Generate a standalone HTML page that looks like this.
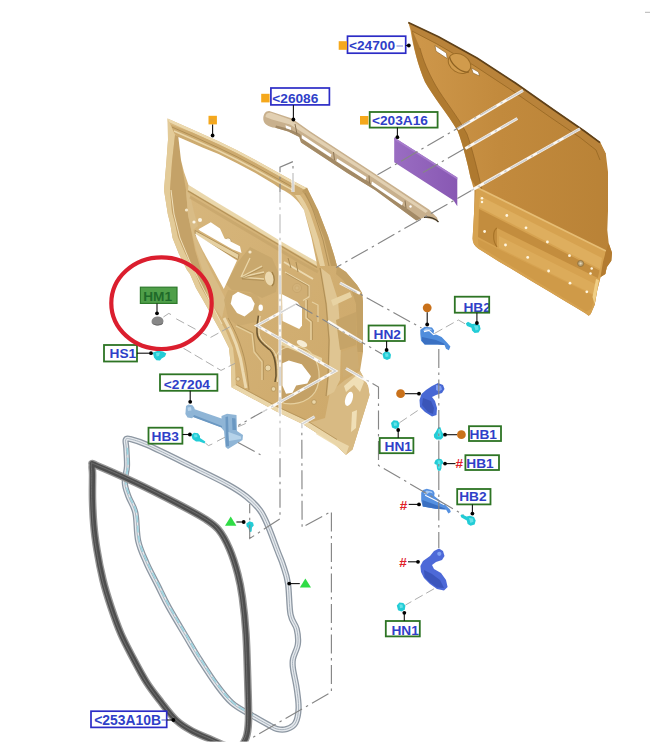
<!DOCTYPE html>
<html lang="en">
<head>
<meta charset="utf-8">
<title>Rear door exploded view</title>
<style>
html,body{margin:0;padding:0;background:#fff;}
body{width:650px;height:750px;overflow:hidden;}
svg{display:block;}
text{font-family:"Liberation Sans",Arial,sans-serif;font-weight:bold;font-size:13.7px;}
.lb{fill:#2f3fc8;}
.bx-b{fill:#fff;stroke:#2b2bd0;stroke-width:1.3;}
.bx-g{fill:#fff;stroke:#2f7a2a;stroke-width:1.4;}
.ld{stroke:#111;stroke-width:1.1;fill:none;}
.dot{fill:#000;}
.osq{fill:#f5a81c;}
.dd{stroke:#868686;stroke-width:1.15;fill:none;stroke-dasharray:19 4.5 2.5 4.5;}
.dw{stroke:#fff;stroke-width:3;fill:none;opacity:.88;}
.ds{stroke:#a4a4a4;stroke-width:0.9;fill:none;stroke-dasharray:9 4;}
.cy{fill:#22ccd6;}
.red{fill:#e0202a;}
</style>
</head>
<body>
<svg width="650" height="750" viewBox="0 0 650 750">
<defs>
<linearGradient id="gOut" x1="0" y1="0" x2="1" y2="0">
<stop offset="0" stop-color="#cf984b"/><stop offset=".45" stop-color="#c28a3d"/><stop offset="1" stop-color="#b98236"/>
</linearGradient>
<linearGradient id="gIn" x1="0" y1="0" x2="1" y2="1">
<stop offset="0" stop-color="#d9b980"/><stop offset="1" stop-color="#cca768"/>
</linearGradient>
<linearGradient id="gPur" x1="0" y1="0" x2="1" y2="0"><stop offset="0" stop-color="#9a6dc2"/><stop offset="1" stop-color="#8858b3"/></linearGradient>
</defs>
<rect width="650" height="750" fill="#fff"/>

<!-- OUTER-PANEL -->
<g id="outer">
<path id="outp" d="M408.3,22.3 L438.5,36.5 L477,57.7 L515.4,82.7 L553.8,109.6 L584.6,130.8 L600,142 L605.8,153.8 L608,172 L608,211 L607.3,230 L608.7,243.3 L612,252.7 L611.3,260.7 L606.7,267.3 L605.3,274 L600.5,277 L597.3,290 L594.7,304.7 L590.7,314 L588.7,315.8 L585.3,313.3 L575,307 L566.5,302 L549.6,291.8 L532.7,281.7 L515.8,271.5 L498.8,261.4 L478.5,248.7 C474.5,246 472.6,243 472.6,238.5 L474,214 L474.5,191.4 L470.7,178.5 C468,165 463,145 457.7,131 C447,113 432,95 425,82 C418,66 413,46 410.6,30.8 Z" fill="url(#gOut)"/>
<!-- left edge shadow -->
<path d="M411,27 C413,46 418,66 425,82 C432,95 447,113 457.7,131 C463,145 468,165 470.7,178.5 L476,187 L482,190 C477,168 472,148 467,134 C457,115 444,100 436,86 C428,72 423,60 420,48 Z" fill="#a9742b" opacity=".8"/>
<path d="M420,48 C423,60 428,72 436,86 C444,100 457,115 467,134 C472,148 477,168 482,190" fill="none" stroke="#8a5c1e" stroke-width=".8" opacity=".7"/>
<!-- top band -->
<path d="M408.3,22.3 L438.5,36.5 L477,57.7 L515.4,82.7 L553.8,109.6 L584.6,130.8 L600,142 L605.8,153.8 L600,160 L596,150 L580,137.5 L550,117 L512,90.5 L474,65.5 L437,44 L412,31 Z" fill="#b9833a"/>
<path d="M412,31 L437,44 L474,65.5 L512,90.5 L550,117 L580,137.5 L596,150 L600,160" fill="none" stroke="#9a6a25" stroke-width=".9"/>
<path d="M408.3,22.6 L438.5,36.8 L477,58 L515.4,83 L553.8,110 L584.6,131.2 L600,142.6" fill="none" stroke="#5f4119" stroke-width="1.7"/>
<!-- right side shading -->

<!-- lower section -->
<path d="M476,187 L605.3,250.5 L606.7,267.3 L605.3,274 L600.5,277 L597.3,290 L594.7,304.7 L590.7,314 L588.7,315.8 L585.3,313.3 L575,307 L566.5,302 L549.6,291.8 L532.7,281.7 L515.8,271.5 L498.8,261.4 L478.5,248.7 C474.5,246 472.6,243 472.6,238.5 L474,214 Z" fill="#d6a250"/>
<path d="M476,187 L606,251" stroke="#e6bd74" stroke-width="1.6" fill="none"/>
<path d="M606,251 L608.7,243.3 L612,252.7 L611.3,260.7 L606.7,267.3 L605.3,274 L600.5,277 L603,262 Z" fill="#b37b30"/>
<path d="M480,196 L602,258 L600,269 L479,207 Z" fill="#deae5e"/>
<path d="M479,209 L599.5,270.5 L597.8,278 L497,228 L497,247 L478,237 Z" fill="#c38d3e"/>
<path d="M499,236 L597,285 L594.6,295 L499,248 Z" fill="#dcab5a"/>
<path d="M497,228 C493,230 492,240 497,247" stroke="#a87428" stroke-width="1.2" fill="none"/>
<path d="M594.6,296 L591.5,309 L586,311.5 L478.5,246 L478,239 L499,249.5 Z" fill="#cf9a48"/>
<path d="M596,279 L592.5,297 L594.6,304 L599,280 Z" fill="#f0cf86"/>
<g fill="#fff6e0">
<circle cx="506.8" cy="215.5" r="1.4"/><circle cx="526" cy="227.8" r="1.4"/><circle cx="547.4" cy="242" r="1.4"/><circle cx="569.5" cy="255.7" r="1.4"/>
<circle cx="484.6" cy="231.5" r="1.4"/><circle cx="505.5" cy="245" r="1.4"/><circle cx="527.7" cy="257.4" r="1.4"/><circle cx="548.6" cy="271" r="1.4"/><circle cx="570" cy="283.2" r="1.4"/><circle cx="586.8" cy="291.8" r="1.4"/>
<circle cx="591.7" cy="268.5" r="1.25"/><circle cx="590.5" cy="273.4" r="1.25"/><circle cx="482" cy="198.3" r="1.25"/><circle cx="482" cy="202" r="1.25"/>
</g>
<circle cx="580.6" cy="263.5" r="3" fill="#b9a57c" stroke="#8a6a35" stroke-width=".8"/>
<circle cx="580.6" cy="263.5" r="1.1" fill="#e8dcc0"/>
<!-- slot, recess, small slot -->
<path d="M435,45.6 L446.4,53 L447.2,58.6 L436,51.2 Z" fill="#fff" stroke="#8a5f22" stroke-width=".6"/>
<ellipse cx="459.5" cy="63.5" rx="12" ry="9" transform="rotate(32 459.5 63.5)" fill="#d19b4c" stroke="#9c6c26" stroke-width="1"/>
<path d="M449.5,57 C452,66 462,73 469,72" stroke="#8f6222" stroke-width="1.2" fill="none"/>
<path d="M471.5,68 L478.5,72 L479.5,76 L473,73 Z" fill="#fff" stroke="#8a5f22" stroke-width=".6"/>
<!-- white lines across -->
<path class="dw" d="M457.7,129 L523,90.4"/><path class="dw" d="M465.4,148.5 L517.3,118.5"/><path class="dw" d="M471,190.6 L580,128.8"/>
</g>

<!-- INNER-FRAME -->
<g id="inner">
<path d="M167.5,118.6 L192.3,129.4 L218.5,141.3 L237.0,150.3 L255.4,160.0 L273.8,170.2 L292.3,180.4 L307.0,188.2 C312,198 315,204 318,210 L328,236 L334,255 L337,266 L346,272 L357,285 L362,293 L363,302 L363,352 L360,371 L365,380 L368,386 L369.5,395 L352.5,449.5 L346,454.7 L335,444.5 L303.5,424.4 L276,411.2 L231.6,387.2 L231,367 L229,348 L221,332 L212,316 L203,300 L196,288 L190,274 L187,270 L179,254 L172.6,238 L170.2,223.6 L167.8,214 L164,190 L165,178 L166.4,162 L168,140 Z" fill="url(#gIn)"/>
<!-- top rail shading -->
<path d="M167.5,118.6 L192.3,129.4 L218.5,141.3 L237.0,150.3 L255.4,160.0 L273.8,170.2 L292.3,180.4 L307.0,188.2 L307.0,191.2 L292.3,183.4 L273.8,173.2 L255.4,163.0 L237.0,153.3 L218.5,144.3 L192.3,132.4 L167.5,121.6 Z" fill="#ecd9ae"/>
<path d="M170,124.5 L192.3,132.4 L218.5,144.3 L237.0,153.3 L255.4,163.0 L273.8,173.2 L292.3,183.4 L307.0,191.2 L300,195 L295,195 L281.2,189.2 L273.8,184.0 L255.4,173.0 L237.0,163.3 L218.5,154.0 L203.0,147.7 L178.3,137.0 L172,131 Z" fill="#cdab70"/>
<path d="M172,127.1 L192.3,135.9 L218.5,147.8 L237.0,156.8 L255.4,166.5 L273.8,176.7 L292.3,186.9" stroke="#b08f55" stroke-width="1" fill="none"/>
<path d="M174,131.1 L192.3,138.9 L218.5,150.8 L237.0,159.8 L255.4,169.5 L273.8,179.7 L292.3,189.9" stroke="#ead6a9" stroke-width="1.6" fill="none"/>
<!-- pillar shading -->
<path d="M307,187.6 C312,198 315,204 318,210 L328,236 L334,255 L337,266 L331,266 L324,238 L314,212 C310,203 306,196 302,191 Z" fill="#bf9c60"/>
<path d="M300,195 C304,200 307,206 310,213 L319,240 L325,266 L320,266 L312,236 L304,210 C301,204 298,199 295,195 Z" fill="#e6cf9f"/>
<path d="M305,193 C309,201 312,207 314,213 L323,240 L329,266" stroke="#a98a52" stroke-width=".8" fill="none"/>
<!-- left edge shading -->
<path d="M168,119 L168,140 L166.4,162 L165,178 L164,190 L167.8,214 L170.2,223.6 L172.6,238 L179,254 L187,270 L190,274 L196,288 L203,300 L212,316 L221,332 L229,348 L231,367 L231.6,387.2 L236,389.6 L235,366 L233,348 L226,331 L217,315 L208,299 L201,287 L195,273 L185,253 L178,237 L175,223 L172,212 L170,190 L172,162 L175,135 Z" fill="#e3cb98"/>
<path d="M175,135 L172,162 L170,190 L172,212 L175,223 L178,237 L185,253 L195,273 L201,287 L208,299 L204,280 L195,250 L188,215 L186,190 L181,160 L179,137 Z" fill="#c4a268"/>
<path d="M186,190 L188,215 L196,250 L206,280 L211,303 L222,318 L226,300 L218,284 C210,270 202,252 196,236 L193,230 L198,226 L194,212 L190,195 Z" fill="#d9bc86"/>
<path d="M171,190 L174,214 L180,238 L190,262 L204,290 L222,324" stroke="#f0e0ba" stroke-width="1" fill="none"/>
<!-- lower right bracket -->
<path d="M330,392 L345,380 L360,371 L365,380 L368,386 L369.5,395 L352.5,449.5 L346,454.7 L335,444.5 L303.5,424.4 L325,418 Z" fill="#d8ba83"/>
<path d="M344,386 L358,374 L364,382 L360,392 L354,385 L346,392 Z" fill="#f0dfb6"/>
<path d="M352,412 L357,410 L356,428 L351,432 Z" fill="#f0dfb6"/>
<path d="M318,430 L344,446 L346,452 L316,434 Z" fill="#f0dfb6"/>
<path d="M231.6,387.2 L276,411.2 L303.5,424.4 L335,444.5 L346,454.7 L349,446 L337,440 L305,420 L277,407 L236,385 Z" fill="#ead6a9"/>
<path d="M236,384.5 L277,406.5 L305,419.5 L337,439.5" stroke="#b39258" stroke-width=".8" fill="none"/>
<!-- right body strip shading -->
<path d="M337,266 L346,272 L357,285 L362,293 L363,302 L363,352 L357,352 L356,304 L352,292 L343,280 L336,274 Z" fill="#c3a165"/>
<path d="M321,268 L330,275 L338,300 L341,340 L340,380 L334,392 L327,396 L329,376 L330,340 L327,304 Z" fill="#dfc592"/>
<path d="M320,268 L326,304 L329,340 L328,376 L326,396" stroke="#aa8b53" stroke-width=".9" fill="none"/>
<path d="M331,300 L350,292 L352,297 L333,306 Z" fill="#e8d3a3"/>
<path d="M336,320 L356,312 L356,345 L340,350 Z" fill="#c6a468"/>
<path d="M341,352 L357,346 L359,368 L343,378 Z" fill="#cdac72"/>
<!-- belt band -->
<path d="M188.5,185 L316.5,261.8 L317,266 L188,190 Z" fill="#ead7ab"/>
<path d="M188,191 L317,267.5" stroke="#b39258" stroke-width="1.1" fill="none"/>
<path d="M190,197 L300,262 L318,272" stroke="#c3a268" stroke-width="3" fill="none" opacity=".6"/>
<!-- mid features -->
<path d="M195,230.5 L239,254.5 L238,259.5 L195.5,235.5 Z" fill="#e6d1a2" stroke="#a88850" stroke-width=".8"/>
<path d="M238,262 L250,247 L272,258 L279,274 L276,292 L262,298 L250,292 L232,290 L226,284 Z" fill="#c9a86d"/>
<path d="M241,277 L262,266 M241,277 L264,272 M241,277 L264,279 M241,277 L250,258" stroke="#ead6a8" stroke-width="1.3" fill="none"/>
<path d="M241,278 L263,267.5 M242,278.5 L264,273.5 M242,279 L264,280.5" stroke="#a88850" stroke-width=".7" fill="none"/>
<ellipse cx="269.5" cy="278.5" rx="4.4" ry="7" transform="rotate(-12 269.5 278.5)" fill="#ecd9af"/>
<path d="M272,272 C275,277 275,283 272,286" stroke="#a38349" stroke-width="1.4" fill="none"/>
<circle cx="297" cy="288" r="4.6" fill="#d9bc86" stroke="#a98a52" stroke-width=".9"/>
<circle cx="297" cy="288" r="2" fill="#e9d5a8" stroke="#b59459" stroke-width=".6"/>
<path d="M283,270 L312,286 L311,300 L304,304 L283,294 Z" fill="#cfae74" opacity=".8"/>
<path d="M284,262 L313,279" stroke="#ecd9af" stroke-width="2" fill="none"/>
<path d="M288,258 L291,268 M296,262 L298,272" stroke="#a98a52" stroke-width="1" fill="none"/>
<path d="M228,290 L224,300 L228,318 L238,326 L256,322 L260,300 L256,294 Z" fill="#caa96e" opacity=".85"/>
<ellipse cx="260.7" cy="307.8" rx="2.2" ry="3.3" fill="#fff"/>
<path d="M224,318 C232,332 240,350 243,372 L246,388" stroke="#ecd9af" stroke-width="3" fill="none"/>
<path d="M228,318 C236,332 244,350 247,372 L249,390" stroke="#b08f55" stroke-width=".9" fill="none"/>
<!-- ring around hole C -->
<path d="M276,356 C280,346 298,342 310,352 C320,362 322,380 315,392 C308,403 290,407 278,401 Z" fill="#c4a166"/>
<path d="M276,356 C280,346 298,342 310,352 C320,362 322,380 315,392 C308,403 290,407 278,401" fill="none" stroke="#e6d09f" stroke-width="1.2"/>
<path d="M281,340 L322,358 L322,362 L281,345 Z" fill="#e7d2a3"/>
<ellipse cx="302" cy="343.6" rx="5.6" ry="3" transform="rotate(25 302 343.6)" fill="#f6ecd4"/>
<path d="M258.4,315.7 C257,324 256.5,332 257.5,336 C259,342 264,345 270,350 C274,354 276,360 276,376 L275,382" fill="none" stroke="#6a5530" stroke-width="1.5"/>
<path d="M260.2,316 C259,324 258.5,331 259.4,335 C261,341 266,344 272,349 C276,353 278,359 278,375 L277.4,382" fill="none" stroke="#f0dfb8" stroke-width="1"/>
<circle cx="268" cy="368" r="3" fill="#ead6a8" stroke="#b08f55" stroke-width=".7"/>
<circle cx="273.5" cy="389" r="2.3" fill="#ead6a8" stroke="#b08f55" stroke-width=".7"/>
<circle cx="314" cy="402" r="2.3" fill="#ead6a8" stroke="#b08f55" stroke-width=".7"/>
<circle cx="238" cy="379" r="2" fill="#ead6a8" stroke="#b08f55" stroke-width=".6"/>
<circle cx="228" cy="241" r="3" fill="#fbf5e6" stroke="#b08f55" stroke-width=".6"/>
<circle cx="238" cy="249" r="1.8" fill="#fbf5e6"/>
<circle cx="250" cy="252" r="1.6" fill="#f3e6c8"/>
<circle cx="200" cy="220" r="2" fill="#fbf5e6"/><circle cx="194" cy="222" r="1.6" fill="#fbf5e6"/>
<circle cx="186.5" cy="210" r="1.6" fill="#f3e6c8"/>
<path d="M285,272 L309,285.5 L309,297 L303,300.5" fill="none" stroke="#ead6a9" stroke-width="1.1"/>
<path d="M286,273.5 L308,286 L308,296" fill="none" stroke="#a98a52" stroke-width=".7"/>
<path d="M306,300 L306,318 L311,322 L311,340" fill="none" stroke="#ead6a9" stroke-width="1.3"/>
<path d="M307.4,300 L307.4,317.4 L312.4,321.4 L312.4,340" fill="none" stroke="#a98a52" stroke-width=".7"/>
<path d="M312,302 L318,305 L318,322" fill="none" stroke="#e6d09f" stroke-width="1.2"/>
<path d="M236,326 L252,334 L254,352 L262,362 L262,380" fill="none" stroke="#e6d09f" stroke-width="1.2"/>
<path d="M237.4,325 L253.4,333 L255.4,351 L263.4,361 L263.4,380" fill="none" stroke="#ab8c54" stroke-width=".7"/>
<!-- window + holes -->
<g fill="#fff">
<path d="M178.3,137 L203.0,147.7 L218.5,154.0 L237.0,163.3 L255.4,173.0 L273.8,184.0 L281.2,189.2 C290,193 298,200 304,210 L311.5,238 L316.5,261.8 L280,240.8 L250,222.3 L219,203.7 L188.5,185 L184,172 L181,160 Z"/>
<path d="M198.5,229.2 L210.8,222.3 L220,228.5 L224.6,238.5 L240,246.2 L241.5,253 L232.3,249.2 L200,230.8 Z"/>
<path d="M195,233.5 L237,260.5 L223.8,289 C217,276 208,260 203,251 C200,245 197,239 195,233.5 Z"/>
<path d="M232.5,295.4 L238,291.7 L251,297.2 L254.7,303.7 L252.8,310 L244.5,316.6 L237,313 L230.7,303.7 Z"/>
<path d="M282,294.2 L297.3,302 L302,308 L302,325.6 L299.2,328.9 L282.5,321 Z"/>
<path d="M282.4,363.2 L288.8,360.5 L301.8,364.2 L311,376.2 L307.3,383.5 L296.2,385.4 L292.5,392.8 L286,393.7 L282.4,385.4 Z"/>
<ellipse cx="349" cy="398.8" rx="3.6" ry="7.4" transform="rotate(18 349 398.8)"/>
</g>
</g>
<!-- STRIP -->
<g id="strip">
<path d="M263.3,119.4 C263,114 266,110.5 270,111.2 L292,118.5 L310.4,131.4 L375,173.8 L429,209.5 L437,217.5 L438.5,222 L433,219.5 L424,217.5 L416.3,220.5 L375,190 L347.3,173 L301,142.5 L299.3,137 L288.2,131.4 L275.3,127.7 C268,127 264,124 263.3,119.4 Z" fill="#c8b08d"/>
<path d="M265.5,117 C265.5,113.5 268,112.3 271,112.8 L291.5,120 L310,133 L375,175.6 L428,211 L425.5,213 L375,179 L309,136.5 L290,124.5 L272,119.5 Z" fill="#e2d0b2"/>
<path d="M301,142.5 L347.3,173 L375,190 L416.3,220.5 L421,218.5 L375,185.5 L347.3,168.5 L303,139.5 Z" fill="#a38a66"/>
<path d="M275.3,127.7 L288.2,131.4 L299.3,137 L301,142.5 L303,139.5 L300,134 L288,128.5 L276,125.5 Z" fill="#a38a66"/>
<path d="M302,135 L331.5,154.4 L330.5,157.3 L301.6,138.2 Z M337,158.4 L366.5,177 L365.5,180 L336.3,161.2 Z M372,181.6 L403,202.6 L402,205.6 L371.3,184.6 Z" fill="#fff"/>
<path d="M285.5,125.2 L290.8,127.2 L291,130 L286,128.3 Z" fill="#fff"/>
<path d="M295,124 L297,134 M333.5,152 L334.5,160 M369,175.5 L369.5,183.5 M405,200.5 L406,208" stroke="#8d7655" stroke-width="1"/>
<path d="M424,217.5 C430,216 436,219 438.5,222" stroke="#3d3424" stroke-width="1.2" fill="none"/>
<circle cx="410.5" cy="206.5" r="1.2" fill="#fff"/>
</g>
<!-- PURPLE -->
<path d="M394.2,137.4 L457.3,177.5 L457.3,206.3 L453.6,200.5 L394.2,162.3 Z" fill="url(#gPur)"/>
<path d="M394.2,137.4 L457.3,177.5 L457.3,179.5 L394.2,139.6 Z" fill="#a77ccc"/>
<!-- SEALS -->
<g id="seals" fill="none" stroke-linejoin="round">
<path d="M125.7,440.0 C126.3,438.5 126.1,438.0 129.8,438.9 C133.5,439.8 137.6,440.7 147.8,445.2 C158.0,449.7 177.6,459.5 190.8,466.0 C204.0,472.5 217.6,478.9 226.8,484.0 C236.0,489.1 240.7,492.1 246.2,496.5 C251.7,500.9 256.4,505.4 260.0,510.3 C263.6,515.2 265.0,519.0 268.0,526.0 C271.0,533.0 275.5,545.5 278.0,552.0 C280.5,558.5 281.3,559.8 283.0,565.0 C284.7,570.2 286.8,575.3 288.0,583.5 C289.2,591.7 289.1,606.7 290.5,614.3 C291.9,621.9 295.5,624.0 296.7,629.0 C297.9,634.0 298.5,639.0 297.9,644.0 C297.3,649.0 293.8,654.7 293.0,658.8 C292.2,662.9 292.4,663.7 293.0,668.6 C293.6,673.5 295.8,681.8 296.7,688.4 C297.6,695.0 298.8,702.2 298.6,708.0 C298.4,713.8 297.4,719.5 295.4,723.0 C293.4,726.5 289.9,728.0 286.8,729.0 C283.7,730.0 280.3,729.8 277.0,729.0 C273.7,728.2 271.1,726.2 267.0,724.0 C262.9,721.8 258.0,719.1 252.2,715.6 C246.4,712.1 238.0,708.3 232.0,703.0 C226.0,697.7 221.3,691.2 216.0,684.0 C210.7,676.8 204.7,667.3 200.0,660.0 C195.3,652.7 193.2,648.8 188.0,640.0 C182.8,631.2 173.7,616.2 168.6,607.0 C163.5,597.8 161.2,592.3 157.5,585.0 C153.8,577.7 149.7,570.4 146.5,563.0 C143.3,555.6 140.0,549.1 138.2,540.8 C136.3,532.5 137.0,520.4 135.4,513.0 C133.8,505.6 130.3,501.6 128.5,496.5 C126.7,491.4 125.0,487.7 124.8,482.6 C124.5,477.5 126.8,471.8 127.0,466.0 C127.2,460.2 126.5,452.3 126.3,448.0 C126.1,443.7 125.1,441.5 125.7,440.0 Z" stroke="#8d97a2" stroke-width="6.2"/>
<path d="M125.7,440.0 C126.3,438.5 126.1,438.0 129.8,438.9 C133.5,439.8 137.6,440.7 147.8,445.2 C158.0,449.7 177.6,459.5 190.8,466.0 C204.0,472.5 217.6,478.9 226.8,484.0 C236.0,489.1 240.7,492.1 246.2,496.5 C251.7,500.9 256.4,505.4 260.0,510.3 C263.6,515.2 265.0,519.0 268.0,526.0 C271.0,533.0 275.5,545.5 278.0,552.0 C280.5,558.5 281.3,559.8 283.0,565.0 C284.7,570.2 286.8,575.3 288.0,583.5 C289.2,591.7 289.1,606.7 290.5,614.3 C291.9,621.9 295.5,624.0 296.7,629.0 C297.9,634.0 298.5,639.0 297.9,644.0 C297.3,649.0 293.8,654.7 293.0,658.8 C292.2,662.9 292.4,663.7 293.0,668.6 C293.6,673.5 295.8,681.8 296.7,688.4 C297.6,695.0 298.8,702.2 298.6,708.0 C298.4,713.8 297.4,719.5 295.4,723.0 C293.4,726.5 289.9,728.0 286.8,729.0 C283.7,730.0 280.3,729.8 277.0,729.0 C273.7,728.2 271.1,726.2 267.0,724.0 C262.9,721.8 258.0,719.1 252.2,715.6 C246.4,712.1 238.0,708.3 232.0,703.0 C226.0,697.7 221.3,691.2 216.0,684.0 C210.7,676.8 204.7,667.3 200.0,660.0 C195.3,652.7 193.2,648.8 188.0,640.0 C182.8,631.2 173.7,616.2 168.6,607.0 C163.5,597.8 161.2,592.3 157.5,585.0 C153.8,577.7 149.7,570.4 146.5,563.0 C143.3,555.6 140.0,549.1 138.2,540.8 C136.3,532.5 137.0,520.4 135.4,513.0 C133.8,505.6 130.3,501.6 128.5,496.5 C126.7,491.4 125.0,487.7 124.8,482.6 C124.5,477.5 126.8,471.8 127.0,466.0 C127.2,460.2 126.5,452.3 126.3,448.0 C126.1,443.7 125.1,441.5 125.7,440.0 Z" stroke="#e6eaee" stroke-width="3.6"/>
<path d="M125.7,440.0 C126.3,438.5 126.1,438.0 129.8,438.9 C133.5,439.8 137.6,440.7 147.8,445.2 C158.0,449.7 177.6,459.5 190.8,466.0 C204.0,472.5 217.6,478.9 226.8,484.0 C236.0,489.1 240.7,492.1 246.2,496.5 C251.7,500.9 256.4,505.4 260.0,510.3 C263.6,515.2 265.0,519.0 268.0,526.0 C271.0,533.0 275.5,545.5 278.0,552.0 C280.5,558.5 281.3,559.8 283.0,565.0 C284.7,570.2 286.8,575.3 288.0,583.5 C289.2,591.7 289.1,606.7 290.5,614.3 C291.9,621.9 295.5,624.0 296.7,629.0 C297.9,634.0 298.5,639.0 297.9,644.0 C297.3,649.0 293.8,654.7 293.0,658.8 C292.2,662.9 292.4,663.7 293.0,668.6 C293.6,673.5 295.8,681.8 296.7,688.4 C297.6,695.0 298.8,702.2 298.6,708.0 C298.4,713.8 297.4,719.5 295.4,723.0 C293.4,726.5 289.9,728.0 286.8,729.0 C283.7,730.0 280.3,729.8 277.0,729.0 C273.7,728.2 271.1,726.2 267.0,724.0 C262.9,721.8 258.0,719.1 252.2,715.6 C246.4,712.1 238.0,708.3 232.0,703.0 C226.0,697.7 221.3,691.2 216.0,684.0 C210.7,676.8 204.7,667.3 200.0,660.0 C195.3,652.7 193.2,648.8 188.0,640.0 C182.8,631.2 173.7,616.2 168.6,607.0 C163.5,597.8 161.2,592.3 157.5,585.0 C153.8,577.7 149.7,570.4 146.5,563.0 C143.3,555.6 140.0,549.1 138.2,540.8 C136.3,532.5 137.0,520.4 135.4,513.0 C133.8,505.6 130.3,501.6 128.5,496.5 C126.7,491.4 125.0,487.7 124.8,482.6 C124.5,477.5 126.8,471.8 127.0,466.0 C127.2,460.2 126.5,452.3 126.3,448.0 C126.1,443.7 125.1,441.5 125.7,440.0 Z" stroke="#aab4be" stroke-width="1"/>
<path d="M252.2,715.6 C248.8,713.5 238.0,708.3 232.0,703.0 C226.0,697.7 221.3,691.2 216.0,684.0 C210.7,676.8 204.7,667.3 200.0,660.0 C195.3,652.7 193.2,648.8 188.0,640.0 C182.8,631.2 173.7,616.2 168.6,607.0 C163.5,597.8 161.2,592.3 157.5,585.0 C153.8,577.7 149.7,570.4 146.5,563.0 C143.3,555.6 140.0,549.1 138.2,540.8 C136.3,532.5 137.0,520.4 135.4,513.0 C133.8,505.6 130.3,501.6 128.5,496.5 C126.7,491.4 125.0,487.7 124.8,482.6 C124.5,477.5 126.8,471.8 127.0,466.0 C127.2,460.2 126.4,451.0 126.3,448.0" stroke="#9fd6e2" stroke-width="1.6" stroke-dasharray="7 3" transform="translate(1,-.5)"/>
<path d="M92.3,465.0 C93.0,463.4 89.4,462.5 96.6,465.4 C103.8,468.3 122.0,476.3 135.4,482.6 C148.8,488.9 165.5,497.4 177.0,503.4 C188.5,509.4 197.7,514.2 204.6,518.6 C211.5,523.0 214.3,524.6 218.5,529.7 C222.7,534.8 226.3,541.6 229.5,549.0 C232.7,556.4 235.7,566.0 237.8,574.0 C239.9,582.0 240.9,587.0 242.3,597.0 C243.7,607.0 245.1,619.6 246.0,634.0 C246.9,648.4 247.4,669.1 247.8,683.5 C248.2,697.9 248.8,711.5 248.5,720.5 C248.2,729.5 247.8,733.2 246.0,737.8 C244.2,742.4 241.3,746.6 238.0,748.0 C234.7,749.4 230.3,747.3 226.0,746.0 C221.7,744.7 217.7,742.5 212.0,740.0 C206.3,737.5 198.0,734.3 192.0,731.0 C186.0,727.7 181.2,724.8 176.0,720.0 C170.8,715.2 165.8,708.2 161.0,702.0 C156.2,695.8 151.7,690.3 147.0,683.0 C142.3,675.7 137.3,666.2 133.0,658.0 C128.7,649.8 124.7,642.5 121.0,634.0 C117.3,625.5 114.0,616.0 111.0,607.0 C108.0,598.0 105.3,589.5 103.0,580.0 C100.7,570.5 98.5,559.2 97.0,550.0 C95.5,540.8 94.5,533.5 93.8,525.0 C93.0,516.5 92.7,507.5 92.5,499.2 C92.3,490.9 92.6,480.7 92.6,475.0 C92.6,469.3 91.6,466.6 92.3,465.0 Z" stroke="#969696" stroke-width="7.6"/>
<path d="M92.3,465.0 C93.0,463.4 89.4,462.5 96.6,465.4 C103.8,468.3 122.0,476.3 135.4,482.6 C148.8,488.9 165.5,497.4 177.0,503.4 C188.5,509.4 197.7,514.2 204.6,518.6 C211.5,523.0 214.3,524.6 218.5,529.7 C222.7,534.8 226.3,541.6 229.5,549.0 C232.7,556.4 235.7,566.0 237.8,574.0 C239.9,582.0 240.9,587.0 242.3,597.0 C243.7,607.0 245.1,619.6 246.0,634.0 C246.9,648.4 247.4,669.1 247.8,683.5 C248.2,697.9 248.8,711.5 248.5,720.5 C248.2,729.5 247.8,733.2 246.0,737.8 C244.2,742.4 241.3,746.6 238.0,748.0 C234.7,749.4 230.3,747.3 226.0,746.0 C221.7,744.7 217.7,742.5 212.0,740.0 C206.3,737.5 198.0,734.3 192.0,731.0 C186.0,727.7 181.2,724.8 176.0,720.0 C170.8,715.2 165.8,708.2 161.0,702.0 C156.2,695.8 151.7,690.3 147.0,683.0 C142.3,675.7 137.3,666.2 133.0,658.0 C128.7,649.8 124.7,642.5 121.0,634.0 C117.3,625.5 114.0,616.0 111.0,607.0 C108.0,598.0 105.3,589.5 103.0,580.0 C100.7,570.5 98.5,559.2 97.0,550.0 C95.5,540.8 94.5,533.5 93.8,525.0 C93.0,516.5 92.7,507.5 92.5,499.2 C92.3,490.9 92.6,480.7 92.6,475.0 C92.6,469.3 91.6,466.6 92.3,465.0 Z" stroke="#4e4e4e" stroke-width="4.9"/>
<path d="M92.3,465.0 C93.0,463.4 89.4,462.5 96.6,465.4 C103.8,468.3 122.0,476.3 135.4,482.6 C148.8,488.9 165.5,497.4 177.0,503.4 C188.5,509.4 197.7,514.2 204.6,518.6 C211.5,523.0 214.3,524.6 218.5,529.7 C222.7,534.8 226.3,541.6 229.5,549.0 C232.7,556.4 235.7,566.0 237.8,574.0 C239.9,582.0 240.9,587.0 242.3,597.0 C243.7,607.0 245.1,619.6 246.0,634.0 C246.9,648.4 247.4,669.1 247.8,683.5 C248.2,697.9 248.8,711.5 248.5,720.5 C248.2,729.5 247.8,733.2 246.0,737.8 C244.2,742.4 241.3,746.6 238.0,748.0 C234.7,749.4 230.3,747.3 226.0,746.0 C221.7,744.7 217.7,742.5 212.0,740.0 C206.3,737.5 198.0,734.3 192.0,731.0 C186.0,727.7 181.2,724.8 176.0,720.0 C170.8,715.2 165.8,708.2 161.0,702.0 C156.2,695.8 151.7,690.3 147.0,683.0 C142.3,675.7 137.3,666.2 133.0,658.0 C128.7,649.8 124.7,642.5 121.0,634.0 C117.3,625.5 114.0,616.0 111.0,607.0 C108.0,598.0 105.3,589.5 103.0,580.0 C100.7,570.5 98.5,559.2 97.0,550.0 C95.5,540.8 94.5,533.5 93.8,525.0 C93.0,516.5 92.7,507.5 92.5,499.2 C92.3,490.9 92.6,480.7 92.6,475.0 C92.6,469.3 91.6,466.6 92.3,465.0 Z" stroke="#6d6d6d" stroke-width="1" transform="translate(-.8,-.8)"/>
</g>
<!-- PARTS -->
<g id="parts">
<!-- HM1 grey part -->
<path d="M151.6,322 C151.6,319 154,317 157,316.6 C160,316.2 162.6,317.6 163.3,320 C164,322.6 162.6,324.6 159.6,325 C155.5,325.6 151.6,325 151.6,322 Z" fill="#878787"/>
<path d="M153,323.6 C156,325.4 161,324.8 163,322.4 C163,324.6 160,325.4 157,325.4 C155,325.4 153.6,324.6 153,323.6 Z" fill="#5d5d5d"/>
<!-- HS1 cyan -->
<path d="M152.8,352.4 L158,350.8 L163,351.6 L166.3,353.6 L165,356.6 L161.6,358.4 L160,360.6 L156.4,360.2 L154,357.4 Z" class="cy"/>
<path d="M156,353 L160,352.4 L159,356 L156.6,356.6 Z" fill="#66e2e8"/>
<!-- check strap -->
<g fill="#8fb5d6">
<path d="M186,406 L188.5,404.6 L192.5,405.2 L194.5,408 L194.5,416 L192,418.3 L187.5,417.6 L185.4,414 Z"/>
<path d="M192.5,408.6 L223,419 L222,427.6 L192.5,416.6 Z"/>
<path d="M221.5,416 L227,413.8 L236.5,415 L237,431 L243,435 L242.5,440 L228,449 L225.5,447 L224,431 L221.5,428 Z"/>
</g>
<path d="M194,415 L222,426 L222,427.8 L193,417 Z M225.5,417 L228,416.5 L229,446 L226,446.5 Z M232,418 L235.5,418.5 L236,430 L232.5,430 Z" fill="#6b98c2"/>
<path d="M187.5,407.5 L191,407 L191.5,410.5 L188,411 Z M228.5,432 L241,436.5 L241,439 L229,441 Z" fill="#b6d3ea"/>
<!-- HB3 bolt -->
<path d="M191.3,435 L194,432.7 L198,433.3 L200,436 L200,438 L205.3,441.5 L204.6,443.6 L199.5,441.6 L196,441.4 L192.5,439 Z" class="cy"/>
<path d="M194,434.5 L197,434.5 L197.5,437 L194.5,437.5 Z" fill="#66e2e8"/>
<!-- seal clip -->
<path d="M246.3,523.4 L249.5,521.2 L253,522.4 L253.8,525.4 L252,527.4 L251.6,531.4 L249.6,532.2 L248.4,528 L246.6,526.4 Z" class="cy"/>
<!-- hinge 1 -->
<path d="M420.3,329.7 L424.7,326.7 L432,327.5 L434.2,330.4 L433.5,333.3 L441.6,337 L446.7,342.2 L450.4,346.6 L448.9,350.2 L446,348.8 L444.5,345 L437.9,344.6 L424.7,344.6 L421,340.7 L420.3,334 Z" fill="#4f8ddc"/>
<path d="M422,337 L436,340 L444,343.6 L444.5,345 L437.9,344.6 L424.7,344.6 L422,341 Z" fill="#3a70c2"/>
<path d="M423,330.4 L426,328.2 L431,328.8 L432.4,330.6 L429,329.8 L425.6,331.6 Z" fill="#a3c8f4"/>
<path d="M424,331.6 L429,330.4 L433.5,334.6 L438,333.2" stroke="#fff" stroke-width="1.1" fill="none"/>
<!-- hinge 2 -->
<path d="M438,383 L443,385 L444.5,389 L442,393 L436,395 L432,397 L435,401 L437,408 L436.5,415 L432,416.5 L425,412 L420,407 L419.5,400 L421.5,394 L426,390 L432,386 Z" fill="#4868d4"/>
<path d="M423,398 L431,401 L434,408 L433,414 L428,412 L422,405 Z" fill="#3a55b8"/>
<path d="M436,385 L441,386 L442,389.5 L439,391.5 L436,390 Z" fill="#7f9cf0"/>
<!-- hinge 3 -->
<path d="M421.2,492.8 L423,490 L426.8,488.8 L433.2,490.4 L434.6,493 L434.2,496 L444.4,504 L450,509.6 L450.8,512 L448.4,513.6 L446,509.6 L435.6,508.8 L422.8,506.4 L421.2,500.8 Z" fill="#5590e0"/>
<path d="M422.4,500 L436,505 L445,508.6 L446,509.6 L435.6,508.8 L422.8,506.4 Z" fill="#3a70c2"/>
<path d="M423.6,493.4 L426.6,490.6 L431.6,491.4 L433,493.4 L429.4,492.4 L426,494.8 Z" fill="#a7caf5"/>
<path d="M425.2,495.2 L444.4,504.8" stroke="#fff" stroke-width="1.1"/>
<!-- hinge 4 -->
<path d="M439,548.5 L443,551 L444.5,556 L442,560 L436,562 L432,565 L434,569 L441,573 L446,580 L447.6,587 L444,590.4 L437,589 L430,584 L424,578 L421,572 L420.4,566 L423,561 L430,556 L434,551 Z" fill="#4d69d8"/>
<path d="M424,570 L432,574 L440,580 L444,588 L437,587.6 L430,582.6 L424.6,577 Z" fill="#3b55bc"/>
<circle cx="439.3" cy="553.8" r="2.1" fill="#7fa0f2"/>
<!-- HB2 bolt top -->
<path d="M465.8,323.4 L468,321.8 L472,324 L476,323.4 L479.6,325 L480.6,329 L478.6,332.4 L474.6,333 L472,330.6 L471.5,327.8 L467,326 Z" class="cy"/>
<path d="M474,325.6 L478,326 L478.6,329.4 L475.6,330.6 Z" fill="#66e2e8"/>
<!-- HN2 nut -->
<path d="M382.4,354 L385,351.4 L389,351.8 L391,354.6 L390.4,358.4 L387,360 L383.6,358.6 Z" class="cy"/>
<path d="M385,353.4 L388,353.4 L388.6,356.4 L385.6,357 Z" fill="#66e2e8"/>
<!-- HN1 nut a -->
<path d="M391,423 L393.6,420.3 L397.6,420.8 L399.4,423.6 L398.8,427.4 L395.4,429 L392,427.6 Z" class="cy"/>
<path d="M393.6,422.4 L396.6,422.4 L397,425.4 L394,426 Z" fill="#66e2e8"/>
<!-- HB1 bolt a -->
<path d="M438.2,427.3 L440.4,427.3 L441.6,431 L443.5,434.6 L443,437.6 L441,439.6 L436.4,439.6 L434.2,437.4 L433.8,434.8 L436,431.5 Z" class="cy"/>
<path d="M438.6,429 L440,429 L441,436.6 L437.4,436.6 Z" fill="#55e6ec"/>
<!-- HB1 bolt b -->
<path d="M434.4,462.6 L435.6,460 L438.5,458.4 L441.5,459.2 L443,461.6 L443,463.6 L441.6,464.6 L441.4,468.6 L440.4,470.8 L438,470.8 L437,468.6 L436.6,464.8 L434.6,464 Z" class="cy"/>
<path d="M437.6,460.4 L440.4,460.4 L440.4,468.6 L438.2,468.6 Z" fill="#55e6ec"/>
<!-- HB2 bolt bottom -->
<path d="M460.4,515.4 L462,514.2 L466.5,516.6 L470,515.8 L474,517 L475.7,520.4 L474.6,524.4 L470.6,525.8 L467.6,524 L466.8,520.4 L461.4,517.6 Z" class="cy"/>
<path d="M469,518 L473,518.4 L473.4,521.8 L470.4,523 Z" fill="#66e2e8"/>
<!-- HN1 nut b -->
<path d="M396.8,605.4 L399.4,602.6 L403.4,603 L405.4,605.8 L404.8,609.8 L401.4,611.6 L398,610.2 Z" class="cy"/>
<path d="M399.4,604.6 L402.4,604.6 L403,607.6 L400,608.2 Z" fill="#66e2e8"/>
<!-- orange circles -->
<circle cx="427.2" cy="307.8" r="4.4" fill="#c9711a"/>
<circle cx="400.6" cy="393.7" r="4.4" fill="#c9711a"/>
<circle cx="461.4" cy="434.7" r="4.4" fill="#c9711a"/>
<!-- green triangles -->
<path d="M230.7,516.6 L236.4,525.8 L225,525.8 Z" fill="#30dc46"/>
<path d="M305.4,578.4 L311,587.4 L299.8,587.4 Z" fill="#30dc46"/>
</g>
<!-- LINES -->
<g id="lines">
<!-- white underlays on parts -->
<path class="dw" d="M280,192 L280,455"/>
<path class="dw" d="M293,192 L293,170"/>
<path class="dw" d="M296,304 L257,325.5 L335.5,371 L262,412"/>
<path class="dw" d="M340,283 L360,293.5"/>
<path class="dw" d="M327.7,321.4 L362,342"/>
<path class="dw" d="M346,368.5 L368,381.5"/>
<path class="dw" d="M301.8,424 L314.6,416.8"/>
<path class="dw" d="M301.8,424 L301.8,430"/>
<!-- dash-dot lines -->
<path class="dd" d="M523,90.4 L377.5,174.8"/>
<path class="dd" d="M517.3,118.5 L423,172.5"/>
<path class="dd" d="M580,128.8 L336,267.5"/>
<path class="dd" d="M293,192 L293,161.6 L280,167.2 L280,518.8 L249.7,538.5 L249.7,504"/>
<path class="dd" d="M314.6,416.8 L301.8,424 L302.1,527.4 L331.4,511.4 L331.4,692 L252.2,737.8"/>
<path class="dd" d="M296,304 L257,325.5 L335.5,371 L238.3,425.4"/>
<path class="dd" d="M340,283 L421.5,328"/>
<path class="dd" d="M296,304 L382,354"/>
<path class="dd" d="M346,368.5 L378.5,387 L378.5,465.5 L463.4,514.8"/>
<path class="dd" d="M438.8,349 L438.8,548"/>
<path class="dd" d="M238,442.5 L260.5,454.8"/>
<!-- short dashes -->
<path class="ds" d="M163.4,317 L168.8,313.4 L172.5,315.4" stroke-dasharray="none"/>
<path class="ds" d="M176.2,318.8 L210.6,337.4 L232.6,325.4"/>
<path class="ds" d="M183.5,348.3 L221,370.4 L235,363.4"/>
<path class="ds" d="M205.3,443 L208.5,445.6 L212.3,444" stroke-dasharray="none"/>
<path class="ds" d="M217,441.3 L226.3,436.5" stroke-dasharray="none"/>
<path class="ds" d="M238,426.8 L245.7,423.5" stroke-dasharray="none"/>
<path class="ds" d="M465,323.8 L458.4,320 L433.5,334" stroke-dasharray="12 5"/>
<path class="ds" d="M399.4,422.8 L421.5,408" stroke-dasharray="none"/>
<path class="ds" d="M434,588.8 L405.5,605" stroke-dasharray="16 4"/>

<!-- soften dashes on parts -->
<path d="M280,192 L280,455" stroke="#fff" stroke-width="1.5" fill="none" opacity=".62"/>
<path d="M293,192 L293,170" stroke="#fff" stroke-width="1.5" fill="none" opacity=".62"/>
<path d="M296,304 L257,325.5 L335.5,371 L262,412" stroke="#fff" stroke-width="1.5" fill="none" opacity=".62"/>
<path d="M340,283 L360,293.5" stroke="#fff" stroke-width="1.5" fill="none" opacity=".62"/>
<path d="M327.7,321.4 L362,342" stroke="#fff" stroke-width="1.5" fill="none" opacity=".62"/>
<path d="M346,368.5 L368,381.5" stroke="#fff" stroke-width="1.5" fill="none" opacity=".62"/>
<path d="M301.8,424 L314.6,416.8" stroke="#fff" stroke-width="1.5" fill="none" opacity=".62"/>
<path d="M301.8,424 L301.8,430" stroke="#fff" stroke-width="1.5" fill="none" opacity=".62"/>
<path d="M457.7,129 L523,90.4" stroke="#fff" stroke-width="1.5" fill="none" opacity=".62"/>
<path d="M465.4,148.5 L517.3,118.5" stroke="#fff" stroke-width="1.5" fill="none" opacity=".62"/>
<path d="M471,190.6 L580,128.8" stroke="#fff" stroke-width="1.5" fill="none" opacity=".62"/>
</g>
<!-- LABELS -->
<g id="labels">
<svg x="347.5" y="36.2" width="58.2" height="17.0" overflow="hidden"><rect x="0" y="0" width="58.2" height="17.0" fill="#fff"/><text class="lb" x="1.5" y="14.3">&lt;24700</text></svg>
<rect x="347.5" y="36.2" width="58.2" height="17.0" fill="none" stroke="#2c2cc6" stroke-width="1.7"/>
<svg x="270.9" y="88.0" width="58.5" height="16.9" overflow="hidden"><rect x="0" y="0" width="58.5" height="16.9" fill="#fff"/><text class="lb" x="1.4" y="14.8">&lt;26086</text></svg>
<rect x="270.9" y="88.0" width="58.5" height="16.9" fill="none" stroke="#2c2cc6" stroke-width="1.7"/>
<svg x="369.7" y="112.0" width="67.9" height="15.6" overflow="hidden"><rect x="0" y="0" width="67.9" height="15.6" fill="#fff"/><text class="lb" x="2.3" y="13.2">&lt;203A16</text></svg>
<rect x="369.7" y="112.0" width="67.9" height="15.6" fill="none" stroke="#2d7424" stroke-width="1.8"/>
<svg x="104.0" y="345.0" width="33.0" height="16.5" overflow="hidden"><rect x="0" y="0" width="33.0" height="16.5" fill="#fff"/><text class="lb" x="5.5" y="12.7">HS1</text></svg>
<rect x="104.0" y="345.0" width="33.0" height="16.5" fill="none" stroke="#2d7424" stroke-width="1.8"/>
<svg x="160.0" y="374.3" width="57.4" height="16.5" overflow="hidden"><rect x="0" y="0" width="57.4" height="16.5" fill="#fff"/><text class="lb" x="3.8" y="14.7">&lt;27204</text></svg>
<rect x="160.0" y="374.3" width="57.4" height="16.5" fill="none" stroke="#2d7424" stroke-width="1.8"/>
<svg x="148.5" y="427.7" width="33.9" height="16.0" overflow="hidden"><rect x="0" y="0" width="33.9" height="16.0" fill="#fff"/><text class="lb" x="3.0" y="13.3">HB3</text></svg>
<rect x="148.5" y="427.7" width="33.9" height="16.0" fill="none" stroke="#2d7424" stroke-width="1.8"/>
<svg x="91.0" y="711.2" width="75.7" height="16.2" overflow="hidden"><rect x="0" y="0" width="75.7" height="16.2" fill="#fff"/><text class="lb" x="3.2" y="13.6" style="font-size:13.9px">&lt;253A10B</text></svg>
<rect x="91.0" y="711.2" width="75.7" height="16.2" fill="none" stroke="#2c2cc6" stroke-width="1.7"/>
<svg x="368.6" y="325.5" width="36.2" height="15.5" overflow="hidden"><rect x="0" y="0" width="36.2" height="15.5" fill="#fff"/><text class="lb" x="4.9" y="13.5">HN2</text></svg>
<rect x="368.6" y="325.5" width="36.2" height="15.5" fill="none" stroke="#2d7424" stroke-width="1.8"/>
<svg x="454.8" y="296.7" width="34.4" height="16.0" overflow="hidden"><rect x="0" y="0" width="34.4" height="16.0" fill="#fff"/><text class="lb" x="8.6" y="14.9">HB2</text></svg>
<rect x="454.8" y="296.7" width="34.4" height="16.0" fill="none" stroke="#2d7424" stroke-width="1.8"/>
<svg x="379.7" y="438.0" width="33.7" height="15.2" overflow="hidden"><rect x="0" y="0" width="33.7" height="15.2" fill="#fff"/><text class="lb" x="4.9" y="12.8">HN1</text></svg>
<rect x="379.7" y="438.0" width="33.7" height="15.2" fill="none" stroke="#2d7424" stroke-width="1.8"/>
<svg x="469.0" y="426.2" width="32.0" height="14.8" overflow="hidden"><rect x="0" y="0" width="32.0" height="14.8" fill="#fff"/><text class="lb" x="0.5" y="13.0">HB1</text></svg>
<rect x="469.0" y="426.2" width="32.0" height="14.8" fill="none" stroke="#2d7424" stroke-width="1.8"/>
<svg x="465.4" y="455.2" width="33.6" height="14.8" overflow="hidden"><rect x="0" y="0" width="33.6" height="14.8" fill="#fff"/><text class="lb" x="0.9" y="12.8">HB1</text></svg>
<rect x="465.4" y="455.2" width="33.6" height="14.8" fill="none" stroke="#2d7424" stroke-width="1.8"/>
<svg x="457.2" y="489.0" width="33.3" height="15.4" overflow="hidden"><rect x="0" y="0" width="33.3" height="15.4" fill="#fff"/><text class="lb" x="2.0" y="12.2">HB2</text></svg>
<rect x="457.2" y="489.0" width="33.3" height="15.4" fill="none" stroke="#2d7424" stroke-width="1.8"/>
<svg x="385.8" y="621.0" width="34.0" height="15.4" overflow="hidden"><rect x="0" y="0" width="34.0" height="15.4" fill="#fff"/><text class="lb" x="5.7" y="13.5">HN1</text></svg>
<rect x="385.8" y="621.0" width="34.0" height="15.4" fill="none" stroke="#2d7424" stroke-width="1.8"/>
<rect x="140.4" y="287.2" width="36.6" height="16.2" fill="#4f9f49" stroke="#2e7a2b" stroke-width="1.2"/>
<text x="143.2" y="301.3" fill="#1f6a2a">HM1</text>
<path d="M396.5,46 L403,46" stroke="#7a86d8" stroke-width="1"/>
<rect class="osq" x="338.7" y="41.2" width="8.4" height="8.6"/>
<rect class="osq" x="261.2" y="93.8" width="8.4" height="8.6"/>
<rect class="osq" x="360" y="116" width="8.4" height="8.6"/>
<rect class="osq" x="208.5" y="115.8" width="8.4" height="8.6"/>
<path d="M210.6,121.6 L210.6,119.4 L212,119.4 L212,121.6 M212,119.4 L213.4,119.4 L213.4,121.6" stroke="#d9a24a" stroke-width=".6" fill="none"/>
<path class="ld" d="M405.7,45.5 L408.8,45.5"/><circle class="dot" cx="408.8" cy="45.5" r="1.9"/>
<path class="ld" d="M293.4,104.9 L293.4,119.5"/><circle class="dot" cx="293.4" cy="119.5" r="1.9"/>
<path class="ld" d="M397.4,127.6 L397.4,137.2"/><circle class="dot" cx="397.4" cy="137.2" r="1.9"/>
<path class="ld" d="M212.6,124.6 L212.6,135.5"/><circle class="dot" cx="212.6" cy="135.5" r="1.9"/>
<path class="ld" d="M157,303.4 L157,313.3"/><circle class="dot" cx="157" cy="313.3" r="1.9"/>
<path class="ld" d="M137,353.2 L151,353.2"/><circle class="dot" cx="151" cy="353.2" r="1.9"/>
<path class="ld" d="M190.2,390.8 L190.2,401.8"/><circle class="dot" cx="190.2" cy="401.8" r="1.9"/>
<path class="ld" d="M182.4,434.5 L189.9,434.5"/><circle class="dot" cx="189.9" cy="434.5" r="1.9"/>
<path d="M161.5,720 L166.7,720" stroke="#4a55c8" stroke-width="1"/><path class="ld" d="M166.7,720 L173.4,720"/><circle class="dot" cx="173.4" cy="720" r="1.9"/>
<path class="ld" d="M236.4,522 L243.7,522"/><circle class="dot" cx="243.7" cy="522" r="1.9"/>
<path class="ld" d="M299.8,583.6 L289.2,583.6"/><circle class="dot" cx="289.2" cy="583.6" r="1.9"/>
<path class="ld" d="M427.2,312.2 L427.2,324.5"/><circle class="dot" cx="427.2" cy="324.5" r="1.9"/>
<path class="ld" d="M386.6,341 L386.6,350"/><circle class="dot" cx="386.6" cy="350" r="1.9"/>
<path class="ld" d="M476.9,312.7 L476.9,323"/><circle class="dot" cx="476.9" cy="323" r="1.9"/>
<path class="ld" d="M405,393.7 L419,393.7"/><circle class="dot" cx="419" cy="393.7" r="1.9"/>
<path class="ld" d="M398.2,438 L398.2,430"/><circle class="dot" cx="398.2" cy="430" r="1.9"/>
<path class="ld" d="M457,434.7 L445,434.7"/><circle class="dot" cx="445" cy="434.7" r="1.9"/>
<path class="ld" d="M455.5,463.6 L445,463.6"/><circle class="dot" cx="445" cy="463.6" r="1.9"/>
<path class="ld" d="M408.7,504.4 L419,504.4"/><circle class="dot" cx="419" cy="504.4" r="1.9"/>
<path class="ld" d="M472.4,504.4 L472.4,513.6"/><circle class="dot" cx="472.4" cy="513.6" r="1.9"/>
<path class="ld" d="M408,561.8 L418,561.8"/><circle class="dot" cx="418" cy="561.8" r="1.9"/>
<path class="ld" d="M404.3,621 L404.3,612.8"/><circle class="dot" cx="404.3" cy="612.8" r="1.9"/>
<text x="455.6" y="468" fill="#e0202a" style="font-size:13.5px">#</text>
<text x="399.8" y="509.6" fill="#e0202a" style="font-size:13.5px">#</text>
<text x="399.2" y="566.6" fill="#e0202a" style="font-size:13.5px">#</text>
<ellipse cx="161.5" cy="303.2" rx="50.2" ry="45.8" fill="none" stroke="#db1e2e" stroke-width="4.2"/>
</g>
<rect x="0" y="741.6" width="650" height="8.4" fill="#fff"/>
<path d="M645,12.3 L650,12.3" stroke="#b5b5b5" stroke-width="1"/>
</svg>
</body>
</html>
